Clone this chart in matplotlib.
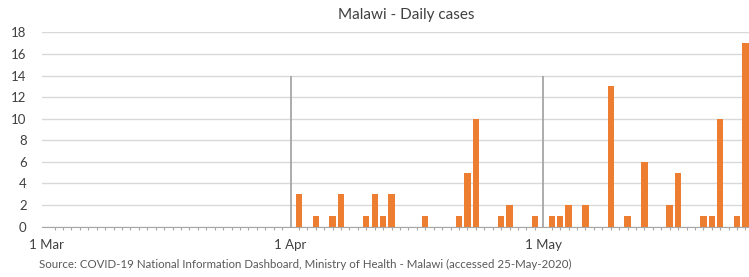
import numpy as np
import pandas as pd
import matplotlib
matplotlib.use("Agg")
import matplotlib.pyplot as plt
import matplotlib.dates as mdates

plt.rcParams['font.family'] = ['Lato', 'DejaVu Sans']

# daily new cases (days not listed had 0)
start_date = "2020-03-03"
end_date = "2020-05-25"
case_dates = ["2020-04-02", "2020-04-04", "2020-04-06", "2020-04-07", "2020-04-10",
              "2020-04-11", "2020-04-12", "2020-04-13", "2020-04-17", "2020-04-21",
              "2020-04-22", "2020-04-23", "2020-04-26", "2020-04-27", "2020-04-30",
              "2020-05-02", "2020-05-03", "2020-05-04", "2020-05-06", "2020-05-09",
              "2020-05-11", "2020-05-13", "2020-05-16", "2020-05-17", "2020-05-20",
              "2020-05-21", "2020-05-22", "2020-05-24", "2020-05-25"]
case_counts = [3, 1, 1, 3, 1, 3, 1, 3, 1, 1, 5, 10, 1, 2, 1,
               1, 1, 2, 2, 13, 1, 6, 2, 5, 1, 1, 10, 1, 17]
month_lines = ["2020-04-01", "2020-05-01"]
tick_labels = ["1 Mar", "1 Apr", "1 May"]

days = pd.date_range(start_date, end_date, freq="D")
daily = pd.Series(0, index=days)
daily.loc[pd.to_datetime(case_dates)] = case_counts

fig = plt.figure(figsize=(7.49, 2.77), dpi=100)
ax = fig.add_axes([0.056, 0.182, 0.944, 0.701])

ax.bar(days, daily.values, width=0.75, color="#ED7D31", zorder=3)

for d in month_lines:
    ax.vlines(pd.Timestamp(d), 0, 14, color="#a6a6a6", lw=1.3, zorder=2)

ax.set_ylim(0, 18)
ax.set_yticks(np.arange(0, 19, 2))
ax.set_xlim(days[0] - pd.Timedelta(hours=12), days[-1] + pd.Timedelta(hours=10))

# labels at first category and first of month
label_pos = [days[0]] + [pd.Timestamp(d) for d in month_lines]
ax.set_xticks(label_pos)
ax.set_xticklabels(tick_labels)
ax.set_xticks(days, minor=True)
ax.tick_params(axis="x", which="major", length=0, pad=9, labelsize=9.5, colors="#404040")
ax.tick_params(axis="x", which="minor", length=2.5, width=0.8, color="#a6a6a6")
ax.tick_params(axis="y", length=0, pad=11, labelsize=9.5, colors="#404040")

ax.grid(axis="y", color="#d9d9d9", lw=1, zorder=0)
ax.set_axisbelow(True)
for s in ["left", "top", "right"]:
    ax.spines[s].set_visible(False)
ax.spines["bottom"].set_color("#a6a6a6")
ax.spines["bottom"].set_zorder(4)

fig.text(0.5425, 0.945, "Malawi - Daily cases", ha="center", va="center",
         fontsize=11, color="#404040")
fig.text(0.052, 0.045, "Source: COVID-19 National Information Dashboard, Ministry of Health - Malawi (accessed 25-May-2020)",
         ha="left", va="center", fontsize=8.3, color="#595959")

fig.savefig("out.png", dpi=100)
